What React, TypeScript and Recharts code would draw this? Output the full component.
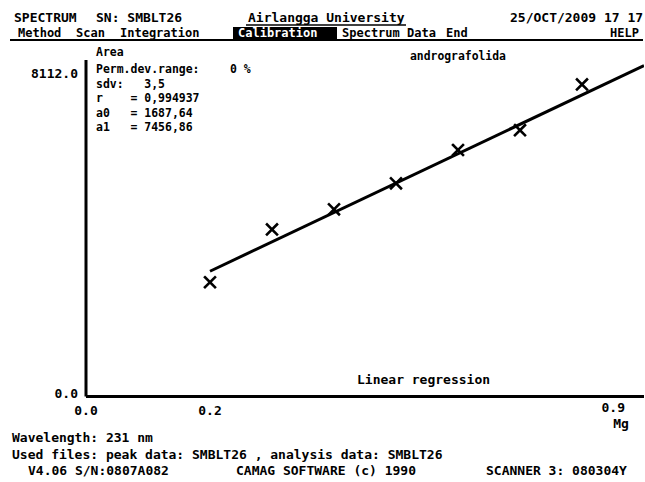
import { ComposedChart, Line, Scatter, XAxis, YAxis } from 'recharts';

// calibration standards (amount in mg) and their measured peak areas
const amounts = [0.2, 0.3, 0.4, 0.5, 0.6, 0.7, 0.8];
const areas = [2900, 4240, 4750, 5410, 6255, 6760, 7920];

// linear regression result reported by the scanner software
const a0 = 1687.64;
const a1 = 7456.86;
const r = 0.994937;
const sdv = 3.5;
const fitRange = [0.2, 0.9];

const xTicks = [0, 0.2, 0.9];
const yTicks = [0, 8112];
const yMax = 8540;

const W = 645;
const H = 482;
const FONT = '"DejaVu Sans Mono", monospace';

const points = amounts.map((x, i) => ({ x, y: areas[i] }));
const fitLine = fitRange.map((x) => ({ x, fit: a0 + a1 * x }));

const comma = (v: number, d: number) => v.toFixed(d).replace('.', ',');

const CrossMark = (props: any) => {
  const { cx, cy } = props;
  if (cx == null || cy == null) return null;
  const s = 5;
  return (
    <g stroke="#000" strokeWidth={2.6} strokeLinecap="square">
      <line x1={cx - s} y1={cy - s} x2={cx + s} y2={cy + s} />
      <line x1={cx - s} y1={cy + s} x2={cx + s} y2={cy - s} />
    </g>
  );
};

const XTick = (props: any) => {
  const { x, y, payload, index, visibleTicksCount } = props;
  const last = index === visibleTicksCount - 1;
  return (
    <text
      x={last ? x - 10 : x}
      y={last ? y + 7 : y + 10}
      textAnchor={last ? 'end' : 'middle'}
      fontFamily={FONT}
      fontWeight="bold"
      fontSize={13}
      fill="#000"
    >
      {payload.value.toFixed(1)}
    </text>
  );
};

const YTick = (props: any) => {
  const { x, y, payload } = props;
  return (
    <text x={x} y={y + 1} textAnchor="end" fontFamily={FONT} fontWeight="bold" fontSize={13} fill="#000">
      {payload.value.toFixed(1)}
    </text>
  );
};

// screen text; `cw` squeezes a string to a per-character width
const T = ({ x, y, children, anchor = 'start', fill = '#000', cw, size = 13 }: any) => {
  const tl = cw ? String(children).length * cw : undefined;
  return (
    <text
      x={x}
      y={y}
      textAnchor={anchor}
      fontFamily={FONT}
      fontWeight="bold"
      fontSize={size}
      fill={fill}
      textLength={tl}
      lengthAdjust={tl ? 'spacingAndGlyphs' : undefined}
      style={{ whiteSpace: 'pre' }}
    >
      {children}
    </text>
  );
};

function Screen() {
  const cw = 6.9;
  return (
    <svg width={W} height={H} style={{ position: 'absolute', left: 0, top: 0, pointerEvents: 'none' }}>
      {/* header */}
      <T x={14} y={22}>SPECTRUM</T>
      <T x={96} y={22}>SN: SMBLT26</T>
      <T x={248} y={22}>Airlangga University</T>
      <line x1={246} y1={25} x2={406} y2={25} stroke="#000" strokeWidth={1.5} />
      <T x={510} y={22}>25/OCT/2009 17 17</T>

      {/* menu bar */}
      <line x1={10} y1={40} x2={643} y2={40} stroke="#000" strokeWidth={2} />
      <T x={18} y={37} size={12}>Method</T>
      <T x={76} y={37} size={12}>Scan</T>
      <T x={120} y={37} size={12}>Integration</T>
      <rect x={233} y={27} width={104} height={13} fill="#000" />
      <T x={238} y={37} size={12} fill="#fff">Calibration</T>
      <T x={342} y={37} size={12}>Spectrum</T>
      <T x={407} y={37} size={12}>Data</T>
      <T x={446} y={37} size={12}>End</T>
      <T x={610} y={37} size={12}>HELP</T>

      {/* regression statistics */}
      <T x={96} y={56} cw={cw}>Area</T>
      <T x={410} y={60} cw={6.85}>andrografolida</T>
      <T x={96} y={73} cw={cw}>Perm.dev.range:</T>
      <T x={230} y={73} cw={cw}>0 %</T>
      <T x={96} y={88} cw={cw}>{`sdv:   ${comma(sdv, 1)}`}</T>
      <T x={96} y={102} cw={cw}>{`r    = ${comma(r, 6)}`}</T>
      <T x={96} y={117} cw={cw}>{`a0   = ${comma(a0, 2)}`}</T>
      <T x={96} y={131} cw={cw}>{`a1   = ${comma(a1, 2)}`}</T>

      <T x={357} y={384}>Linear regression</T>
      <T x={621} y={428} anchor="middle">Mg</T>

      {/* footer */}
      <T x={12} y={442}>Wavelength: 231 nm</T>
      <T x={12} y={459}>Used files: peak data: SMBLT26 , analysis data: SMBLT26</T>
      <T x={28} y={475}>V4.06 S/N:0807A082</T>
      <T x={236} y={475}>CAMAG SOFTWARE (c) 1990</T>
      <T x={486} y={475}>SCANNER 3: 080304Y</T>
    </svg>
  );
}

export default function App() {
  return (
    <div style={{ position: 'absolute', left: 0, top: 0, width: W, height: H, background: '#fff' }}>
      <ComposedChart width={W} height={H} margin={{ top: 60, right: 1, bottom: 55.5, left: 0 }}>
        <XAxis
          type="number"
          dataKey="x"
          domain={[0, 0.9]}
          ticks={xTicks}
          allowDataOverflow
          height={30}
          axisLine={{ stroke: '#000', strokeWidth: 3 }}
          tickLine={false}
          tick={<XTick />}
        />
        <YAxis
          type="number"
          domain={[0, yMax]}
          ticks={yTicks}
          width={86}
          tickSize={8}
          tickMargin={0}
          axisLine={{ stroke: '#000', strokeWidth: 3 }}
          tickLine={false}
          tick={<YTick />}
        />
        <Line
          data={fitLine}
          dataKey="fit"
          stroke="#000"
          strokeWidth={3}
          dot={false}
          isAnimationActive={false}
        />
        <Scatter data={points} dataKey="y" shape={<CrossMark />} isAnimationActive={false} />
      </ComposedChart>
      <Screen />
    </div>
  );
}
